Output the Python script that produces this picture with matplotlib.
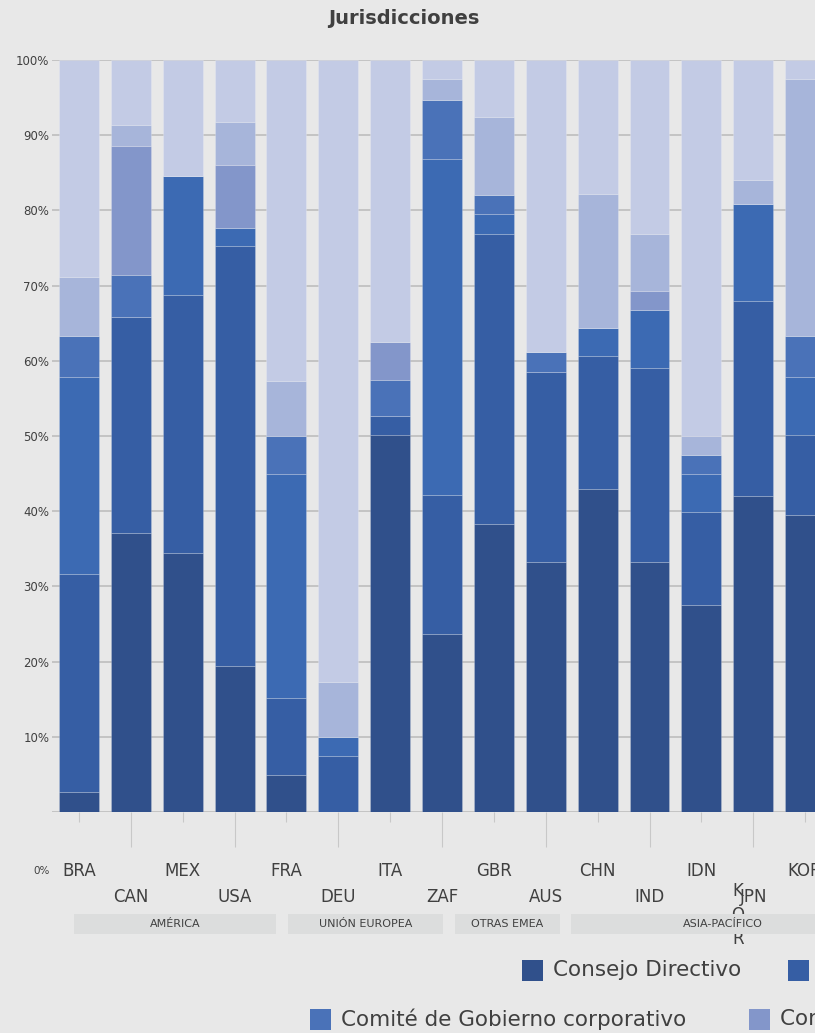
import numpy as np
import matplotlib
matplotlib.use('Agg')
import matplotlib.pyplot as plt
from matplotlib.patches import Rectangle

# datos (porcentaje de cada órgano por jurisdicción)
countries = ['BRA', 'CAN', 'MEX', 'USA', 'FRA', 'DEU', 'ITA', 'ZAF',
             'GBR', 'AUS', 'CHN', 'IND', 'IDN', 'JPN', 'KOR']
consejo = [2.6, 37.1, 34.4, 19.4, 4.9, 0.0, 50.1, 23.7, 38.3, 33.3, 43.0, 33.3, 27.5, 42.0, 39.5]
auditoria = [29.0, 28.7, 34.4, 55.8, 10.2, 7.4, 2.6, 18.5, 38.6, 25.2, 17.7, 25.7, 12.4, 25.9, 10.6]
nominaciones = [26.3, 0.0, 15.8, 2.5, 29.9, 2.6, 0.0, 44.7, 2.6, 0.0, 3.6, 7.8, 5.1, 12.9, 7.8]
gobierno = [5.4, 5.6, 0.0, 0.0, 5.0, 0.0, 4.7, 7.8, 2.5, 2.7, 0.0, 0.0, 2.5, 0.0, 5.4]
remuneraciones = [0.0, 17.2, 0.0, 8.4, 0.0, 0.0, 5.1, 0.0, 0.0, 0.0, 0.0, 2.5, 0.0, 0.0, 0.0]
riesgos = [7.8, 2.8, 0.0, 5.6, 7.3, 7.3, 0.0, 2.8, 10.4, 0.0, 17.9, 7.6, 2.5, 3.3, 34.2]
otros = [28.9, 8.6, 15.4, 8.3, 42.7, 82.7, 37.5, 2.5, 7.6, 38.8, 17.8, 23.1, 50.0, 15.9, 2.5]

series_names = ['Consejo Directivo', 'Comité de Auditoría', 'Comité de Nominaciones',
                'Comité de Gobierno corporativo', 'Comité de Remuneraciones',
                'Comité de Riesgos', 'Otros']
series = [consejo, auditoria, nominaciones, gobierno, remuneraciones, riesgos, otros]
colors = ['#30508b', '#365ea4', '#3c6ab3', '#4a72b8', '#8396ca', '#a7b5da', '#c3cbe5']

groups = ['AMÉRICA', 'UNIÓN EUROPEA', 'OTRAS EMEA', 'ASIA-PACÍFICO']

BG = '#e8e8e8'
TXT = '#404040'
W, H = 815, 1033


def fx(px):
    return px / W


def fy(py):
    return 1 - py / H


fig = plt.figure(figsize=(W / 100, H / 100), dpi=100, facecolor=BG)
ax = fig.add_axes([fx(52), fy(812), fx(857) - fx(52), fy(60) - fy(812)])
ax.set_facecolor(BG)

x = np.arange(len(countries))
bottom = np.zeros(len(countries))
for vals, col, name in zip(series, colors, series_names):
    ax.bar(x, vals, width=0.77, bottom=bottom, color=col,
           edgecolor=(1, 1, 1, 0.22), linewidth=0.6, zorder=3, label=name)
    bottom += np.array(vals)

ax.set_xlim(-0.52, 15.0)
ax.set_ylim(0, 100)
for s in ax.spines.values():
    s.set_visible(False)

ax.set_yticks(range(10, 101, 10), ['%d%%' % v for v in range(10, 101, 10)])
ax.yaxis.grid(True, color='#c4c4c4', linewidth=1.4, zorder=0)
ax.axhline(0, color='#c4c4c4', linewidth=1.4, zorder=1)
ax.set_axisbelow(True)
ax.tick_params(axis='y', length=0, pad=2, labelsize=8.5, labelcolor=TXT)

# etiquetas escalonadas en dos filas
ax.set_xticks(x[::2], countries[::2])
ax.set_xticks(x[1::2], countries[1::2], minor=True)
ax.tick_params(axis='x', which='major', length=7.2, width=0.8, color='#c8c8c8',
               pad=29, labelsize=12, labelcolor=TXT)
ax.tick_params(axis='x', which='minor', length=25.2, width=0.8, color='#c8c8c8',
               pad=29.5, labelsize=12, labelcolor=TXT)

fig.text(fx(50), fy(871), '0%', ha='right', va='center', fontsize=7.5, color=TXT)

# etiqueta KOR desplazada (vertical)
fig.text(fx(738), fy(915), 'K\nO\nR', ha='center', va='center', fontsize=12,
         linespacing=1.4, color=TXT, zorder=0.5)

# bandas de regiones
band_px = [(74, 276), (288, 443), (455, 560), (571, 875)]
for g, (x0, x1) in zip(groups, band_px):
    fig.patches.append(Rectangle((fx(x0), fy(934)), fx(x1) - fx(x0), 20 / H,
                                 transform=fig.transFigure, facecolor='#dcdddd',
                                 edgecolor='none', zorder=1))
    fig.text(fx((x0 + x1) / 2), fy(924), g, ha='center', va='center',
             fontsize=8, color=TXT, zorder=2)

# leyenda (cortada a la derecha como en el original)
legend_px = [(0, 522, 970), (1, 788, 970), (3, 310, 1019), (4, 749, 1019)]
for idx, lx, ly in legend_px:
    fig.patches.append(Rectangle((fx(lx), fy(ly + 10.5)), 21 / W, 21 / H,
                                 transform=fig.transFigure, facecolor=colors[idx],
                                 edgecolor='none', zorder=2))
    fig.text(fx(lx + 31), fy(ly), series_names[idx], ha='left', va='center',
             fontsize=15.5, color=TXT)

fig.text(fx(404), fy(18), 'Jurisdicciones', ha='center', va='center',
         fontsize=14, fontweight='bold', color=TXT)

fig.savefig('out.png', dpi=100, facecolor=BG)
